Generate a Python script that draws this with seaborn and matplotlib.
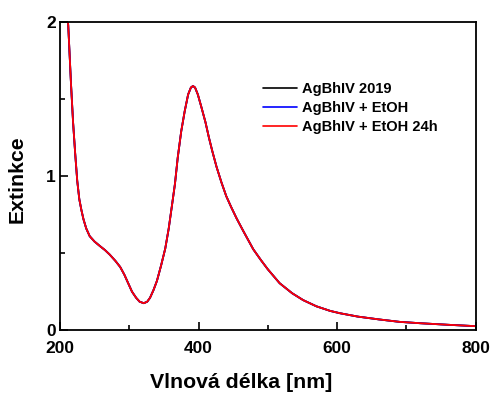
import pandas as pd
import seaborn as sns
import matplotlib.pyplot as plt
from matplotlib.ticker import MultipleLocator

# wavelength [nm] and extinction
wavelength = [200, 205, 209, 212, 216, 219, 222, 225, 228, 231, 234, 238, 243,
              250, 258, 265, 272, 280, 287, 293, 298, 304, 310, 315, 321, 326,
              330, 335, 340, 346, 352, 357, 362, 366, 370, 375, 380, 385, 389,
              392, 395, 399, 404, 410, 415, 420, 426, 433, 440, 447, 455, 465,
              479, 490, 500, 517, 535, 551, 570, 590, 604, 630, 660, 690, 720,
              760, 800]
ext_2019 = [2.60, 2.35, 2.12, 1.98, 1.60, 1.35, 1.15, 0.97, 0.85, 0.78, 0.72,
            0.66, 0.61, 0.575, 0.545, 0.52, 0.49, 0.45, 0.41, 0.36, 0.31, 0.25,
            0.21, 0.185, 0.175, 0.185, 0.21, 0.26, 0.32, 0.42, 0.53, 0.66, 0.82,
            0.95, 1.12, 1.29, 1.42, 1.53, 1.575, 1.585, 1.575, 1.53, 1.45, 1.35,
            1.25, 1.16, 1.06, 0.96, 0.87, 0.80, 0.725, 0.64, 0.525, 0.455, 0.395,
            0.305, 0.24, 0.195, 0.155, 0.125, 0.11, 0.088, 0.07, 0.054, 0.045,
            0.035, 0.026]
ext_etoh = list(ext_2019)
ext_etoh_24h = list(ext_2019)

series = ["AgBhIV 2019", "AgBhIV + EtOH", "AgBhIV + EtOH 24h"]
colors = ["black", "blue", "red"]

n = len(wavelength)
df = pd.DataFrame({
    "wl": wavelength * 3,
    "ext": ext_2019 + ext_etoh + ext_etoh_24h,
    "sample": [series[0]] * n + [series[1]] * n + [series[2]] * n,
})

sns.set_style("ticks")
plt.rcParams["font.family"] = ["Liberation Sans", "DejaVu Sans"]
plt.rcParams["text.color"] = "black"
plt.rcParams["axes.labelcolor"] = "black"
plt.rcParams["xtick.color"] = "black"
plt.rcParams["ytick.color"] = "black"
plt.rcParams["axes.edgecolor"] = "black"

fig = plt.figure(figsize=(4.91, 3.94), dpi=100)
ax = fig.add_axes([0.122, 0.162, 0.847, 0.782])

sns.lineplot(data=df, x="wl", y="ext", hue="sample", hue_order=series,
             palette=colors, linewidth=1.3, ax=ax)

ax.set_xlim(200, 800)
ax.set_ylim(0, 2)
ax.xaxis.set_major_locator(MultipleLocator(200))
ax.xaxis.set_minor_locator(MultipleLocator(100))
ax.yaxis.set_major_locator(MultipleLocator(1))
ax.yaxis.set_minor_locator(MultipleLocator(0.5))
ax.tick_params(which="both", direction="in", top=False, right=False, width=1.2)
ax.tick_params(which="major", length=6, labelsize=12.5)
ax.tick_params(axis="x", which="major", pad=8)
ax.tick_params(axis="y", which="major", pad=3)
ax.tick_params(which="minor", length=3.5)
for lab in ax.get_xticklabels() + ax.get_yticklabels():
    lab.set_fontweight("bold")
for sp in ax.spines.values():
    sp.set_linewidth(1.3)
    sp.set_visible(True)

ax.set_xlabel("Vlnová délka [nm]", fontsize=15.3, fontweight="bold")
ax.xaxis.set_label_coords(0.436, -0.14)
ax.set_ylabel("Extinkce", fontsize=15.3, fontweight="bold")
ax.yaxis.set_label_coords(-0.08, 0.49)

leg = ax.legend(loc="upper left", bbox_to_anchor=(0.475, 0.825), frameon=False,
                prop={"weight": "bold", "size": 10.5}, handlelength=2.3,
                handletextpad=0.35, labelspacing=0.35, borderaxespad=0)
for h in leg.get_lines():
    h.set_linewidth(1.2)

fig.savefig("out.png", dpi=100)
